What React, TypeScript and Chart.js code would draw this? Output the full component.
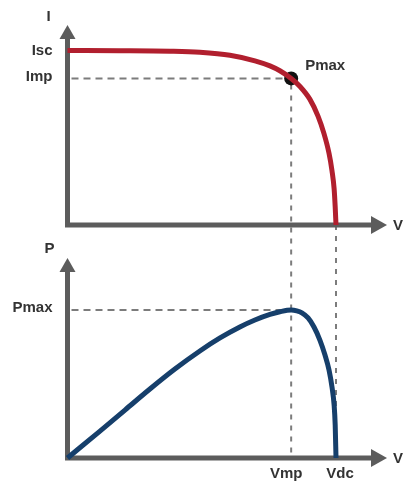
import React, { useEffect, useRef } from "react";
import { Chart, registerables } from "chart.js";

Chart.register(...registerables);

// ---- data (normalised units: V in % of Voc, I in % of Isc, P in % of Pmax) ----
const ivVoltage = [0, 19.6, 38.2, 49.3, 60.5, 69.8, 75.4, 79.1, 83.3, 86.6, 90.3, 93.3, 95.5, 97.4, 98.5, 99.3, 99.7, 100];
const ivCurrent = [100, 99.9, 99.6, 99.0, 97.3, 94.1, 91.2, 88.4, 84.0, 79.4, 72.0, 62.4, 52.5, 41.1, 31.2, 20.8, 10.4, 0];

const pvVoltage = [0, 12.1, 21.4, 30.7, 40.0, 49.3, 56.8, 64.2, 69.8, 75.4, 79.1, 83.3, 85.4, 87.3, 89.6, 91.8, 94.0, 95.9, 97.4, 98.5, 99.3, 99.7, 100];
const pvPower = [0, 18.2, 32.4, 46.6, 60.1, 72.3, 81.1, 88.5, 93.2, 97.0, 98.8, 100, 99.4, 98.0, 94.6, 88.5, 79.7, 69.6, 59.5, 48.0, 35.8, 22.3, 0];

const VOC = 100;
const VMP = 83.3;
const ISC = 100;
const IMP = 84.0;
const PMAX = 100;

const currentTickValues = [ISC, IMP];
const currentTickLabels = ["Isc", "Imp"];
const powerTickValues = [PMAX];
const powerTickLabels = ["Pmax"];
const voltageTickValues = [VMP, VOC];
const voltageTickLabels = ["Vmp", "Vdc"];
const axisTitles = { current: "I", power: "P", voltage: "V" };
const pointLabel = "Pmax";

// ---- layout (pixels) ----
const W = 405;
const H = 484;
const X_ORIGIN = 67.5;
const X_VOC = 336;
const TOP_ZERO = 225;
const TOP_ISC = 50.5;
const BOT_ZERO = 458;
const BOT_PMAX = 310;

const pxPerV = (X_VOC - X_ORIGIN) / VOC;
const xMin = -X_ORIGIN / pxPerV;
const xMax = xMin + W / pxPerV;
const pxPerI = (TOP_ZERO - TOP_ISC) / ISC;
const yIMax = ISC + TOP_ISC / pxPerI;
const yIMin = yIMax - H / pxPerI;
const pxPerP = (BOT_ZERO - BOT_PMAX) / PMAX;
const yPMax = PMAX + BOT_PMAX / pxPerP;
const yPMin = yPMax - H / pxPerP;

const RED = "#b11f2e";
const BLUE = "#163f6b";
const AXIS = "#5c5c5c";
const DASH = "#7c7c7c";
const TEXT = "#333333";
const FONT = "bold 15px 'Liberation Sans', Arial, sans-serif";

function drawAxisPair(ctx: CanvasRenderingContext2D, ox: number, oy: number, topTip: number, rightTip: number) {
  ctx.save();
  ctx.strokeStyle = AXIS;
  ctx.fillStyle = AXIS;
  ctx.lineWidth = 5;
  ctx.lineCap = "butt";
  ctx.beginPath();
  ctx.moveTo(ox, oy + 2.5);
  ctx.lineTo(ox, topTip + 12);
  ctx.moveTo(ox - 2.5, oy);
  ctx.lineTo(rightTip - 14, oy);
  ctx.stroke();
  ctx.beginPath();
  ctx.moveTo(ox, topTip);
  ctx.lineTo(ox + 8, topTip + 14);
  ctx.lineTo(ox - 8, topTip + 14);
  ctx.closePath();
  ctx.fill();
  ctx.beginPath();
  ctx.moveTo(rightTip, oy);
  ctx.lineTo(rightTip - 16, oy - 9);
  ctx.lineTo(rightTip - 16, oy + 9);
  ctx.closePath();
  ctx.fill();
  ctx.restore();
}

const overlayPlugin = {
  id: "overlay",
  beforeDatasetsDraw(chart: any) {
    const ctx: CanvasRenderingContext2D = chart.ctx;
    const x = chart.scales.x;
    const yI = chart.scales.yI;
    const yP = chart.scales.yP;
    const ox = x.getPixelForValue(0);
    const vmp = x.getPixelForValue(VMP);
    const voc = x.getPixelForValue(VOC);
    const i0 = yI.getPixelForValue(0);
    const imp = yI.getPixelForValue(IMP);
    const p0 = yP.getPixelForValue(0);
    const pm = yP.getPixelForValue(PMAX);

    ctx.save();
    ctx.strokeStyle = DASH;
    ctx.lineWidth = 2;
    ctx.setLineDash([7, 5]);
    ctx.beginPath();
    ctx.moveTo(ox + 4, imp);
    ctx.lineTo(vmp, imp);
    ctx.moveTo(ox + 4, pm);
    ctx.lineTo(vmp, pm);
    ctx.stroke();
    ctx.setLineDash([5, 6]);
    ctx.beginPath();
    ctx.moveTo(vmp, imp + 6);
    ctx.lineTo(vmp, p0);
    ctx.moveTo(voc, i0);
    ctx.lineTo(voc, p0);
    ctx.stroke();
    ctx.restore();

    drawAxisPair(ctx, ox, i0, 25, 387);
    drawAxisPair(ctx, ox, p0, 258, 387);
  },
  afterDatasetsDraw(chart: any) {
    const ctx: CanvasRenderingContext2D = chart.ctx;
    const x = chart.scales.x;
    const yI = chart.scales.yI;
    const yP = chart.scales.yP;
    const ox = x.getPixelForValue(0);
    const i0 = yI.getPixelForValue(0);
    const p0 = yP.getPixelForValue(0);
    ctx.save();
    ctx.font = FONT;
    ctx.fillStyle = TEXT;
    ctx.textBaseline = "middle";
    ctx.textAlign = "right";
    currentTickValues.forEach((v, i) => {
      ctx.fillText(currentTickLabels[i], ox - 15, yI.getPixelForValue(v) - (i === 1 ? 2 : 0));
    });
    powerTickValues.forEach((v, i) => {
      ctx.fillText(powerTickLabels[i], ox - 15, yP.getPixelForValue(v) - 2);
    });
    ctx.textAlign = "center";
    voltageTickValues.forEach((v, i) => {
      ctx.fillText(voltageTickLabels[i], x.getPixelForValue(v) + (i === 0 ? -5 : 4), p0 + 16);
    });
    ctx.fillText(axisTitles.current, ox - 19, 17);
    ctx.fillText(axisTitles.power, ox - 18, 249);
    ctx.textAlign = "left";
    ctx.fillText(axisTitles.voltage, 393, i0 + 1);
    ctx.fillText(axisTitles.voltage, 393, p0 + 1);
    ctx.fillText(pointLabel, x.getPixelForValue(VMP) + 14, yI.getPixelForValue(IMP) - 13);
    ctx.restore();
  },
};

export default function App() {
  const ref = useRef<HTMLCanvasElement | null>(null);
  useEffect(() => {
    document.body.style.margin = "0";
    const canvas = ref.current;
    if (!canvas) return;
    const chart = new Chart(canvas, {
      type: "line",
      data: {
        datasets: [
          {
            label: "I-V",
            data: ivVoltage.map((v, i) => ({ x: v, y: ivCurrent[i] })),
            yAxisID: "yI",
            borderColor: RED,
            borderWidth: 5,
            pointRadius: 0,
            fill: false,
            cubicInterpolationMode: "monotone",
          },
          {
            label: "P-V",
            data: pvVoltage.map((v, i) => ({ x: v, y: pvPower[i] })),
            yAxisID: "yP",
            borderColor: BLUE,
            borderWidth: 5,
            pointRadius: 0,
            fill: false,
            cubicInterpolationMode: "monotone",
          },
          {
            label: "Pmax",
            data: [{ x: VMP, y: IMP }],
            yAxisID: "yI",
            showLine: false,
            pointRadius: 7,
            pointBackgroundColor: "#111111",
            pointBorderWidth: 0,
            borderColor: "#111111",
          },
        ],
      },
      options: {
        responsive: false,
        animation: false,
        layout: { padding: 0, autoPadding: false },
        plugins: { legend: { display: false }, tooltip: { enabled: false } },
        scales: {
          x: { type: "linear", min: xMin, max: xMax, display: false },
          yI: { type: "linear", min: yIMin, max: yIMax, display: false },
          yP: { type: "linear", min: yPMin, max: yPMax, display: false },
        },
      },
      plugins: [overlayPlugin],
    } as any);
    return () => chart.destroy();
  }, []);
  return <canvas ref={ref} width={W} height={H} style={{ display: "block" }} />;
}
